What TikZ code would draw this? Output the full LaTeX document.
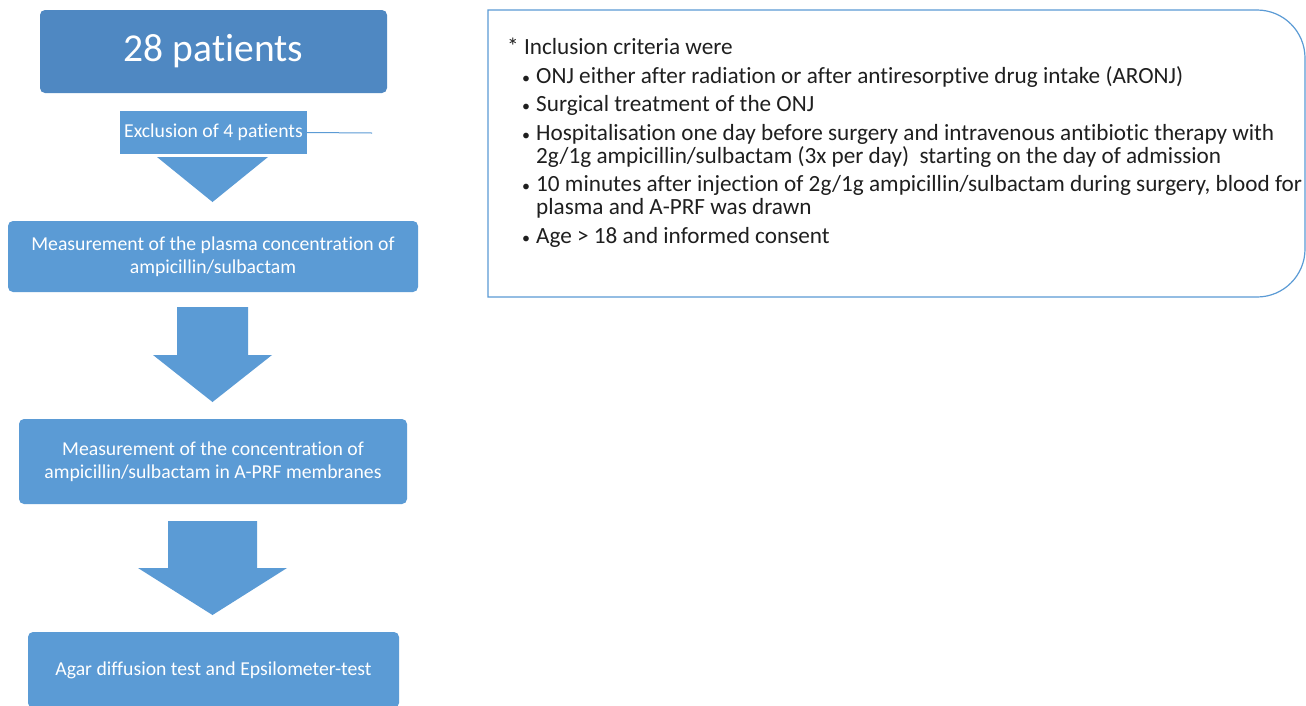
\documentclass[tikz,border=0pt]{standalone}
\usepackage{fontspec}
\setmainfont{Carlito}[RawFeature={-liga;-clig;-calt;-dlig}]
\definecolor{topblue}{HTML}{4F88C2}
\definecolor{boxblue}{HTML}{5B9BD5}
\begin{document}
\begin{tikzpicture}[x=1pt,y=1pt,
  blockbox/.style={fill=boxblue,draw=none,text=white,inner sep=0pt,align=center,rounded corners=5pt,font=\fontsize{19.7}{23}\selectfont},
  blockarrow/.style={fill=boxblue,draw=none},
  crittext/.style={anchor=base west,inner sep=0pt,font=\fontsize{23.2}{26}\selectfont,text=black!88},
  bulletmark/.style={anchor=base west,inner sep=0pt,font=\fontsize{16}{26}\selectfont,text=black!88}]
\useasboundingbox (0,0) rectangle (1306,-705);
\fill[white] (0,0) rectangle (1306,-705);

% top box
\node[blockbox,fill=topblue,minimum width=347pt,minimum height=83pt,font=\fontsize{39.5}{44}\selectfont] (top) at (213.5,-51.5) {28 patients};
% exclusion box
\node[blockbox,rounded corners=0pt,minimum width=187pt,minimum height=43pt] (excl) at (213.5,-132.5) {Exclusion of 4 patients};
\coordinate (exclend) at (372,-133);
\draw[boxblue,line width=1pt] (excl.east) -- (exclend);
% triangle 1
\fill[blockarrow] (157,-157) -- (268,-157) -- (212.5,-202) -- cycle;
% box 2
\node[blockbox,minimum width=410pt,minimum height=71pt] (plasma) at (213,-256.5) {Measurement of the plasma concentration of\\ampicillin/sulbactam};
% arrow 2
\fill[blockarrow] (177,-307) -- (248,-307) -- (248,-355) -- (272,-355) -- (212.5,-402) -- (153,-355) -- (177,-355) -- cycle;
% box 3
\node[blockbox,minimum width=388pt,minimum height=85pt] (prf) at (213,-461.5) {Measurement of the concentration of\\ampicillin/sulbactam in A-PRF membranes};
% arrow 3
\fill[blockarrow] (168,-521) -- (257,-521) -- (257,-568) -- (287,-568) -- (212.5,-615) -- (138,-568) -- (168,-568) -- cycle;
% box 4
\node[blockbox,minimum width=371pt,minimum height=76pt] (agar) at (213.5,-670) {Agar diffusion test and Epsilometer-test};

% criteria box
\draw[boxblue,line width=1.2pt] (488,-10) -- (1257,-10) arc[start angle=90,end angle=0,radius=48] -- (1305,-249) arc[start angle=0,end angle=-90,radius=48] -- (488,-297) -- cycle;

\node[crittext] (ctitle) at (507,-54) {* Inclusion criteria were};
\node[bulletmark] (b1) at (522,-83) {•};
\node[crittext] (c1) at (536,-83) {ONJ either after radiation or after antiresorptive drug intake (ARONJ)};
\node[bulletmark] (b2) at (522,-111) {•};
\node[crittext] (c2) at (536,-111) {Surgical treatment of the ONJ};
\node[bulletmark] (b3) at (522,-140) {•};
\node[crittext] (c3) at (536,-140) {Hospitalisation one day before surgery and intravenous antibiotic therapy with};
\node[crittext] (c3b) at (536,-163) {2g/1g ampicillin/sulbactam (3x per day) \ starting on the day of admission};
\node[bulletmark] (b4) at (522,-191) {•};
\node[crittext] (c4) at (536,-191) {10 minutes after injection of 2g/1g ampicillin/sulbactam during surgery, blood for};
\node[crittext] (c4b) at (536,-214) {plasma and A-PRF was drawn};
\node[bulletmark] (b5) at (522,-243) {•};
\node[crittext] (c5) at (536,-243) {Age > 18 and informed consent};
\end{tikzpicture}
\end{document}
